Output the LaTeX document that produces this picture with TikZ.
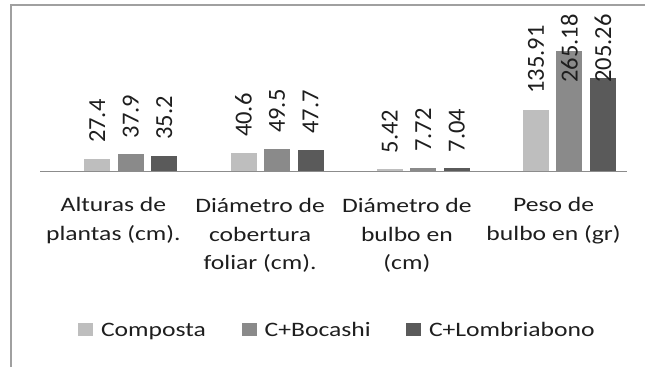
\documentclass[tikz,border=0pt]{standalone}
\usepackage{fontspec}
\setmainfont{Carlito}
\newfontfamily\widefont[FakeStretch=1.25]{Carlito}

\definecolor{composta}{RGB}{190,190,190}
\definecolor{bocashi}{RGB}{138,138,138}
\definecolor{lombri}{RGB}{90,90,90}
\definecolor{framegray}{RGB}{160,160,160}
\definecolor{ink}{RGB}{30,30,30}

\tikzstyle{frame line}=[draw=framegray,line width=2pt]
\tikzstyle{axis}=[draw=black!45,line width=1.2pt]
\tikzstyle{value}=[font=\fontsize{24.5}{26}\selectfont,text=ink,rotate=90,inner sep=0pt]
\tikzstyle{category}=[font=\widefont\fontsize{20.5}{29}\selectfont,text=ink,align=center,anchor=base,inner sep=0pt]
\tikzstyle{key}=[minimum width=15pt,minimum height=13pt,inner sep=0pt]
\tikzstyle{legend}=[font=\widefont\fontsize{20.5}{24}\selectfont,text=ink,anchor=base west,inner sep=0pt]

\begin{document}
\begin{tikzpicture}[x=1pt,y=1pt]
     \useasboundingbox (0,0) rectangle (645,367);
     % Frame of the chart
     \draw[frame line] (11,0) -- (11,362) -- (645,362);
     % First we draw the bars and their values
     \foreach \g/\k/\v/\c in {1/1/27.4/composta, 1/2/37.9/bocashi, 1/3/35.2/lombri,
       2/1/40.6/composta, 2/2/49.5/bocashi, 2/3/47.7/lombri,
       3/1/5.42/composta, 3/2/7.72/bocashi, 3/3/7.04/lombri,
       4/1/135.91/composta, 4/2/265.18/bocashi, 4/3/205.26/lombri}
     {
       \pgfmathsetmacro{\cx}{130.8+146.2*(\g-1)+33.5*(\k-2)}
       \pgfmathsetmacro{\h}{\v*0.4563}
       \pgfmathtruncatemacro{\tall}{\v>150}
       \fill[\c] (\cx-13,195.3) rectangle (\cx+13,195.3+\h);
       \ifnum\tall=1
         \node[value,anchor=east] (v\g\k) at (\cx,353) {\v};
       \else
         \node[value,anchor=west] (v\g\k) at (\cx,195.3+\h+16) {\v};
       \fi
     }
     % Category axis
     \draw[axis] (40,195.3) -- (627,195.3);
     % base anchor sits on the last line
     \foreach \pos/\name/\txt in {{(113.4,126)/alturas/{Alturas de\\plantas (cm).}},
       {(260.1,97)/cobertura/{Diámetro de\\cobertura\\foliar (cm).}},
       {(406.9,97)/bulbo/{Diámetro de\\bulbo en\\(cm)}},
       {(553.6,126)/peso/{Peso de\\bulbo en (gr)}}}
     \node[category] (\name) at \pos {\txt};
     % Legend
     \foreach \x/\name/\c/\txt in {78/compost/composta/Composta,
       241.7/boc/bocashi/C+Bocashi, 406/lomb/lombri/C+Lombriabono}
     {
       \node[key,fill=\c] (k-\name) at (\x+7.5,37.6) {};
       \node[legend] (t-\name) at (\x+22.8,30.3) {\txt};
     }
\end{tikzpicture}
\end{document}
